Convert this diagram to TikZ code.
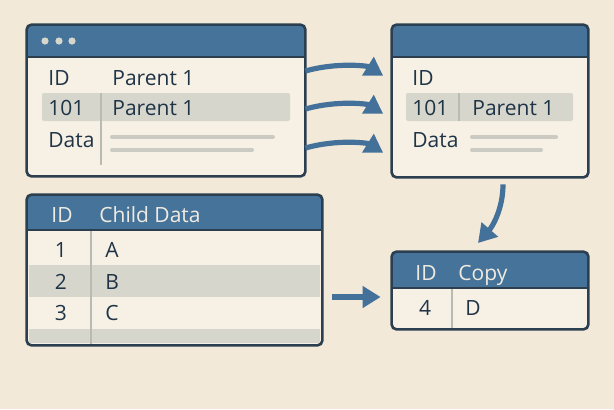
\documentclass[tikz,border=0pt]{standalone}
\usepackage{fontspec}
\setmainfont{Open Sans}
\usetikzlibrary{arrows.meta,positioning,fit,calc}

\definecolor{paperbg}{HTML}{F2E9D8}
\definecolor{panelbg}{HTML}{F7F0E4}
\definecolor{headblue}{HTML}{46739A}
\definecolor{edge}{HTML}{2B3F50}
\definecolor{rowgray}{HTML}{D6D6CD}
\definecolor{ink}{HTML}{1F3447}
\definecolor{headink}{HTML}{F0EBE1}
\definecolor{arrowblue}{HTML}{44719A}
\definecolor{rulegray}{HTML}{B8BAB4}

\begin{document}
\begin{tikzpicture}[
        x=0.5pt, y=-0.5pt,
        panel/.style={
            fill=panelbg,
            inner sep=0pt,
            rounded corners=2.5pt
        },
        frame/.style={draw=edge, line width=1.3pt, rounded corners=2.5pt},
        cell/.style={
            anchor=base west,
            inner sep=0pt,
            text=ink,
            font=\fontsize{10.5}{12}\selectfont
        },
        hcell/.style={cell, text=headink},
        numcell/.style={cell, anchor=base},
        stripe/.style={fill=rowgray, rounded corners=1pt},
        filler/.style={draw=rowgray!95!black, line width=2pt, line cap=round},
        divider/.style={draw=rulegray, line width=0.9pt},
        flow/.style={draw=arrowblue, line width=2.6pt, -{Triangle[length=9pt,width=10.5pt]}}
    ]
        % page
        \fill[paperbg] (0,0) rectangle (614,409);

        % panels
        \node[panel, fit={(27,25) (305,176)}] (parent) {};
        \node[panel, fit={(392,25) (588,177)}] (copyparent) {};
        \node[panel, fit={(27,195) (322,345)}] (child) {};
        \node[panel, fit={(392,252) (588,329)}] (copy) {};

        % headers
        \fill[headblue, rounded corners=2.5pt] (27,25) rectangle (305,57);
        \fill[headblue] (27,45) rectangle (305,57);
        \fill[headblue, rounded corners=2.5pt] (392,25) rectangle (588,57);
        \fill[headblue] (392,45) rectangle (588,57);
        \fill[headblue, rounded corners=2.5pt] (27,195) rectangle (322,230);
        \fill[headblue] (27,215) rectangle (322,230);
        \fill[headblue, rounded corners=2.5pt] (392,252) rectangle (588,288);
        \fill[headblue] (392,272) rectangle (588,288);
        \draw[edge, line width=1pt] (27,57) -- (305,57);
        \draw[edge, line width=1pt] (392,57) -- (588,57);
        \draw[edge, line width=1pt] (27,230) -- (322,230);
        \draw[edge, line width=1pt] (392,288) -- (588,288);

        % window dots
        \foreach \dx in {45,59,72}
            \fill[rowgray] (\dx,41) circle (3.6);

        % highlighted rows
        \fill[stripe] (42,93) rectangle (290,121);
        \fill[stripe] (406,93) rectangle (573,121);
        \fill[rowgray] (29,265) rectangle (320,297);
        \fill[rowgray] (29,329) rectangle (320,343);

        % dividers
        \draw[divider] (101,93) -- (101,165);
        \draw[divider] (459,93) -- (459,121);
        \draw[divider] (91,231) -- (91,344);
        \draw[divider] (452,289) -- (452,328);

        % placeholder lines
        \draw[filler] (112,137) -- (273,137);
        \draw[filler] (112,150) -- (252,150);
        \draw[filler] (472,137) -- (556,137);
        \draw[filler] (472,150) -- (541,150);

        % frames
        \draw[frame] (parent.north west) rectangle (parent.south east);
        \draw[frame] (copyparent.north west) rectangle (copyparent.south east);
        \draw[frame] (child.north west) rectangle (child.south east);
        \draw[frame] (copy.north west) rectangle (copy.south east);

        % parent table
        \node[cell] (p-id) at (48,85) {ID};
        \node[cell] (p-head) at (112,85) {Parent 1};
        \node[cell] (p-key) at (48,115) {101};
        \node[cell] (p-name) at (112,115) {Parent 1};
        \node[cell] (p-data) at (48,147) {Data};

        % copied parent
        \node[cell] (c-id) at (412,85) {ID};
        \node[cell] (c-key) at (412,115) {101};
        \node[cell] (c-name) at (472,115) {Parent 1};
        \node[cell] (c-data) at (412,147) {Data};

        % child table
        \node[hcell] (ch-id) at (51,222) {ID};
        \node[hcell] (ch-head) at (99,222) {Child Data};
        \node[numcell] (ch-n1) at (61,257) {1};
        \node[cell] (ch-v1) at (105,257) {A};
        \node[numcell] (ch-n2) at (61,289) {2};
        \node[cell] (ch-v2) at (105,289) {B};
        \node[numcell] (ch-n3) at (61,320) {3};
        \node[cell] (ch-v3) at (105,320) {C};

        % copy table
        \node[hcell] (cp-id) at (415,280) {ID};
        \node[hcell] (cp-head) at (458,280) {Copy};
        \node[numcell] (cp-n) at (425,315) {4};
        \node[cell] (cp-v) at (465,315) {D};

        % connectors
        \coordinate (lane1) at (0,71);
        \coordinate (lane2) at (0,109);
        \coordinate (lane3) at (0,148);
        \coordinate (land1) at (0,81);
        \coordinate (land2) at (0,119);
        \coordinate (land3) at (0,158);
        \coordinate (src) at (503,0);
        \coordinate (droptip) at (478,243);
        \coordinate (mid) at (0,297);

        \draw[flow, shorten >=5pt] (parent.east |- lane1) .. controls +(32,-9) and +(-24,-15) .. (copyparent.west |- land1);
        \draw[flow, shorten >=5pt] (parent.east |- lane2) .. controls +(32,-9) and +(-24,-15) .. (copyparent.west |- land2);
        \draw[flow, shorten >=5pt] (parent.east |- lane3) .. controls +(32,-9) and +(-24,-15) .. (copyparent.west |- land3);
        \draw[flow, shorten <=3.5pt] (copyparent.south -| src) .. controls +(0,32) and +(14,-16) .. (droptip);
        \draw[flow, shorten <=5pt, shorten >=5.5pt] (child.east |- mid) -- (copy.west |- mid);
    \end{tikzpicture}
\end{document}
